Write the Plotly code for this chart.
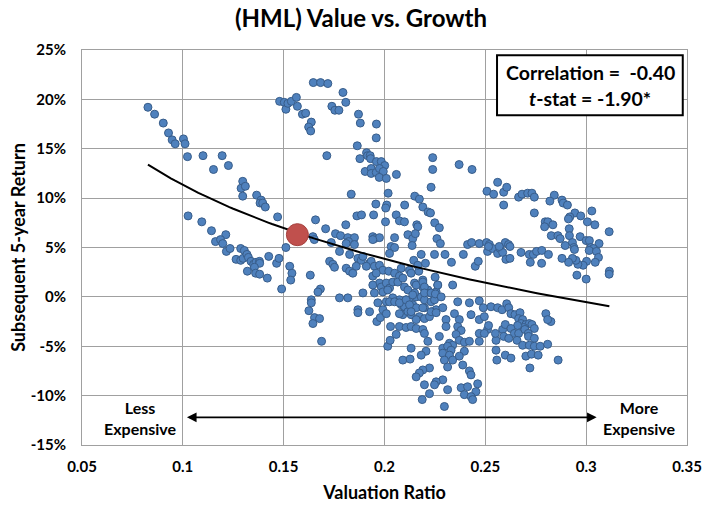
import numpy as np
import plotly.graph_objects as go

# ---- data ----
# valuation ratio (x) and subsequent 5-year return in % (y)
valuation_ratio = [
    0.0827, 0.0860, 0.0903, 0.0929, 0.0947, 0.0962, 0.1003, 0.1011, 0.1023, 0.1100, 0.1195, 0.1152, 0.1226, 0.1297,
    0.1289, 0.1310, 0.1297, 0.1366, 0.1388, 0.1480, 0.1503, 0.1511,
    0.1383, 0.1396, 0.1409, 0.1470, 0.1026, 0.1094, 0.1142, 0.1213, 0.1162, 0.1187, 0.1198, 0.1216, 0.1234, 0.1287,
    0.1305, 0.1264, 0.1287, 0.1299, 0.1318, 0.1325, 0.1338, 0.1351, 0.1363, 0.1380, 0.1381, 0.1355, 0.1320, 0.1361,
    0.1381, 0.1419, 0.1426, 0.1465, 0.1477, 0.1490, 0.1511,
    0.1521, 0.1538, 0.1563, 0.1568, 0.1647, 0.1683, 0.1719, 0.1794, 0.1808, 0.1739, 0.1754, 0.1774, 0.1593, 0.1609,
    0.1637, 0.1624, 0.1634, 0.1871, 0.1880, 0.1960, 0.1959, 0.1865, 0.1714, 0.1878, 0.1911, 0.1916, 0.1929, 0.1931,
    0.1960, 0.1984, 0.2001, 0.1904, 0.1934, 0.1934, 0.1959, 0.1975, 0.1994, 0.1974, 0.2009, 0.2059, 0.2239, 0.2239,
    0.2370, 0.2434, 0.2231, 0.1835, 0.2018, 0.2150, 0.2173, 0.2508,
    0.2190, 0.1957, 0.2011, 0.2006, 0.2100, 0.2216, 0.2228, 0.1946, 0.1863, 0.1886, 0.2058, 0.2074, 0.2099, 0.2005,
    0.1658, 0.1808, 0.1708, 0.2160, 0.2165, 0.2249, 0.2272, 0.1757, 0.1782, 0.1818, 0.1851, 0.1822, 0.1645, 0.1652,
    0.1942, 0.1950, 0.1975, 0.2050, 0.2116, 0.2140, 0.2153, 0.2260, 0.2277, 0.1736, 0.2412, 0.2432, 0.2470, 0.2506,
    0.2511,
    0.1728, 0.1744, 0.1752, 0.1530, 0.1541, 0.1535, 0.1632, 0.1682, 0.1670, 0.1637, 0.1637, 0.1625, 0.1653, 0.1678,
    0.1645, 0.1688, 0.2300, 0.2332, 0.2391, 0.2450, 0.2465, 0.2251, 0.2145, 0.2170, 0.1962, 0.1979, 0.2030, 0.2058,
    0.2016, 0.2028,
    0.1810, 0.1851, 0.1942, 0.2033, 0.2050, 0.2025, 0.2137, 0.2182, 0.2248, 0.1777, 0.1827, 0.1868, 0.1885, 0.1893,
    0.1926, 0.1934, 0.1950, 0.1975, 0.1992, 0.2021, 0.2050, 0.2083, 0.2074, 0.2124, 0.2132, 0.2165, 0.2203, 0.1810,
    0.1827, 0.1843, 0.1860, 0.1910, 0.1942, 0.1959, 0.1975, 0.1942, 0.1984, 0.2009, 0.2025, 0.2041, 0.2066, 0.2091,
    0.2099, 0.2116, 0.2149, 0.2190, 0.2190, 0.2215, 0.2231, 0.2256, 0.2264, 0.1893, 0.1950, 0.1992, 0.2016, 0.2041,
    0.2074, 0.2107, 0.2124, 0.2157, 0.2182, 0.2198, 0.2231, 0.2248, 0.1777, 0.1818, 0.1967, 0.2009, 0.2025, 0.2050,
    0.2083, 0.2099, 0.2140, 0.2157, 0.2198, 0.2239, 0.2256, 0.1868, 0.1868, 0.1926, 0.1992, 0.2009, 0.2083, 0.2091,
    0.2116, 0.2132, 0.2173, 0.2198, 0.2223,
    0.2157, 0.2190, 0.2198, 0.2264, 0.2338, 0.2149, 0.2140, 0.2198, 0.2231, 0.2252, 0.2281, 0.2363, 0.2421, 0.2470,
    0.2074, 0.2107, 0.2124, 0.2190, 0.2231, 0.2256, 0.2289, 0.2347, 0.2429, 0.2470, 0.2495, 0.2528, 0.2561, 0.2074,
    0.2132, 0.2157, 0.2305, 0.2371, 0.2074, 0.2107, 0.2132, 0.2157, 0.2190, 0.2198, 0.2305, 0.2363, 0.2380, 0.2470,
    0.2511, 0.2495, 0.2355, 0.2371, 0.2272, 0.2215, 0.2322, 0.2338, 0.2396, 0.2421, 0.2470, 0.2553, 0.2132, 0.2289,
    0.2313, 0.2330, 0.2289, 0.2322, 0.2206, 0.2182, 0.2396, 0.2297, 0.2338, 0.2371, 0.2553, 0.2091, 0.2127, 0.2223,
    0.2313, 0.2388, 0.2421, 0.2429, 0.2190, 0.2173, 0.2157, 0.2289, 0.2256, 0.2248, 0.2198, 0.2223, 0.2313, 0.2380,
    0.2412, 0.2462, 0.2453, 0.2396, 0.2429, 0.2437, 0.2187, 0.2297,
    0.2541, 0.2591, 0.2665, 0.2682, 0.2710, 0.2731, 0.2743, 0.2842, 0.2820, 0.2880, 0.2886, 0.2907, 0.2591, 0.2743,
    0.3028, 0.2944, 0.2973, 0.2919, 0.2912, 0.3006, 0.3043, 0.3114, 0.2797, 0.2810, 0.2794, 0.2835, 0.2916, 0.2827,
    0.2860, 0.2871, 0.2917, 0.2970, 0.3000, 0.3016, 0.3064, 0.2932, 0.2896, 0.2939, 0.2942, 0.3023, 0.3036, 0.3015,
    0.3051, 0.3061, 0.3045, 0.3002, 0.2985, 0.2959, 0.2949, 0.2932, 0.2913, 0.2880, 0.2954, 0.3000, 0.3115, 0.3114,
    0.2561, 0.2606,
    0.2520, 0.2536, 0.2561, 0.2573, 0.2586, 0.2599, 0.2615, 0.2622, 0.2516, 0.2569, 0.2602, 0.2622, 0.2677, 0.2718,
    0.2738, 0.2754, 0.2780, 0.2813, 0.2723, 0.2779,
    0.2583, 0.2606, 0.2616, 0.2627, 0.2647, 0.2672, 0.2665, 0.2685, 0.2677, 0.2701, 0.2718, 0.2731, 0.2743, 0.2690,
    0.2660, 0.2586, 0.2599, 0.2627, 0.2644, 0.2665, 0.2696, 0.2713, 0.2714, 0.2743, 0.2657, 0.2591, 0.2616, 0.2685,
    0.2718, 0.2743, 0.2772, 0.2809, 0.2800, 0.2825, 0.2809, 0.2599, 0.2627, 0.2701, 0.2729, 0.2762, 0.2721, 0.2861,
    0.2516, 0.2550, 0.2557, 0.2490,
]
subsequent_return = [
    19.2, 18.5, 17.6, 16.6, 15.9, 15.5, 16.0, 15.5, 14.2, 14.3, 14.3, 12.9, 13.3, 11.7,
    11.0, 11.2, 10.2, 10.3, 9.8, 19.8, 19.7, 19.0,
    9.5, 9.5, 9.1, 8.1, 8.2, 7.6, 6.7, 6.3, 5.6, 5.8, 5.4, 4.6, 4.9, 4.9,
    4.7, 3.8, 3.7, 3.9, 4.3, 4.0, 3.6, 3.3, 3.5, 3.6, 3.4, 3.0, 2.6, 2.4,
    2.3, 1.9, 4.1, 3.4, 3.9, 0.8, 5.0,
    19.6, 19.8, 20.2, 19.3, 21.7, 21.7, 21.6, 20.7, 19.7, 19.3, 18.9, 18.9, 18.5, 18.6,
    17.7, 17.2, 16.8, 18.5, 17.6, 17.5, 16.1, 15.3, 14.3, 14.0, 14.6, 14.3, 14.3, 14.0,
    13.7, 13.7, 13.3, 12.7, 13.0, 12.5, 12.6, 13.0, 12.7, 12.1, 12.0, 12.4, 14.1, 12.9,
    13.4, 12.9, 11.1, 10.4, 10.5, 10.2, 9.9, 10.7,
    9.1, 9.4, 9.3, 9.0, 9.3, 8.6, 8.5, 8.3, 8.2, 8.3, 8.3, 7.7, 7.6, 7.6,
    7.8, 7.3, 6.9, 7.3, 7.1, 7.5, 7.0, 6.4, 6.2, 6.0, 6.0, 5.6, 6.1, 5.8,
    6.1, 5.9, 6.0, 6.0, 6.3, 5.9, 6.4, 5.9, 5.4, 5.5, 5.3, 5.5, 5.4, 5.5,
    4.6,
    3.6, 3.3, 3.0, 3.1, 2.4, 1.7, 2.2, 0.8, 0.5, -0.3, -0.6, -1.4, -2.1, -2.2,
    -2.7, -4.5, 4.3, 3.5, 4.3, 3.1, 3.6, 2.0, 3.7, 2.6, -2.5, -2.1, -3.0, -3.8,
    -5.0, -4.4,
    5.4, 5.3, 5.8, 5.1, 5.0, 4.4, 5.2, 4.3, 4.3, 4.6, 4.3, 3.9, 3.7, 4.1,
    3.4, 3.6, 3.1, 3.2, 2.7, 2.6, 2.4, 2.9, 2.1, 2.7, 2.4, 3.2, 3.4, 2.9,
    2.6, 2.4, 3.1, 3.1, 2.1, 2.4, 1.4, 1.2, 1.0, 1.4, 0.9, 1.5, 1.5, 1.9,
    1.0, 0.7, 1.4, 1.7, 1.0, 0.7, 0.4, 0.5, 1.2, 0.4, 0.4, 0.5, 0.7, -0.1,
    -0.3, -0.3, -0.5, 0.0, 0.0, -0.3, -0.5, -0.3, -0.1, -0.1, -0.6, -0.5, -0.5, -0.5,
    -0.8, -1.0, -0.8, -1.1, -1.1, -1.5, -1.3, -1.3, -1.6, -1.5, -1.3, -1.7, -1.7, -1.8,
    -1.5, -1.8, -2.0, -2.2, -2.0,
    1.2, 1.5, 1.0, 1.2, 1.2, 0.4, 0.2, 0.4, 0.4, 0.3, 0.0, -0.5, -0.6, -0.4,
    -0.6, -0.3, -0.8, -1.1, -1.5, -1.6, -1.1, -1.7, -1.8, -2.3, -2.0, -1.0, -1.1, -1.7,
    -1.5, -2.3, -2.3, -2.3, -3.0, -3.1, -3.0, -3.2, -3.3, -3.7, -3.0, -3.0, -3.4, -3.7,
    -3.3, -3.7, -3.8, -4.4, -4.0, -4.5, -4.7, -4.9, -4.6, -4.5, -4.5, -4.4, -5.2, -5.2,
    -5.0, -5.4, -5.7, -5.9, -5.5, -5.9, -5.5, -6.4, -6.4, -6.0, -5.4, -6.4, -6.3, -7.2,
    -7.1, -6.9, -7.5, -7.9, -7.4, -7.7, -8.1, -8.4, -8.6, -8.9, -8.9, -9.8, -9.4, -9.2,
    -9.1, -8.8, -9.6, -9.9, -10.1, -10.4, -10.4, -11.1,
    10.4, 10.6, 10.1, 10.4, 10.5, 10.5, 10.1, 10.3, 9.7, 9.8, 9.5, 9.3, 9.3, 8.5,
    8.7, 8.5, 8.2, 8.1, 7.9, 7.6, 7.3, 6.6, 7.6, 7.6, 7.1, 7.3, 6.9, 6.2,
    6.2, 5.9, 6.2, 6.1, 5.7, 5.7, 5.4, 5.5, 5.2, 5.0, 4.8, 5.0, 4.9, 4.7,
    4.6, 4.0, 3.5, 3.6, 3.2, 3.3, 3.7, 3.9, 3.5, 3.9, 2.2, 1.8, 2.6, 2.3,
    11.6, 11.1,
    5.3, 4.9, 4.4, 4.9, 4.5, 5.5, 5.3, 5.1, 5.1, 5.1, 3.8, 3.9, 4.5, 4.3,
    4.3, 4.6, 4.7, 4.3, 3.5, 3.4,
    -1.3, -0.7, -1.1, -1.7, -1.8, -1.6, -2.2, -2.3, -2.7, -2.8, -2.7, -2.8, -3.2, -3.1,
    -2.9, -3.3, -2.8, -3.2, -3.7, -3.7, -3.3, -3.7, -4.0, -4.2, -4.4, -4.0, -4.2, -4.9,
    -4.9, -5.0, -5.0, -4.8, -1.7, -2.5, -2.3, -5.9, -6.2, -6.0, -5.8, -5.9, -7.2, -6.4,
    -2.9, -3.7, -6.4, -1.1,
]

# current observation (large red marker)
current_ratio = [0.1568]
current_return = [6.3]

x_tick_vals = [0.05, 0.10, 0.15, 0.20, 0.25, 0.30, 0.35]
x_tick_text = ["0.05", "0.1", "0.15", "0.2", "0.25", "0.3", "0.35"]
y_tick_vals = [25, 20, 15, 10, 5, 0, -5, -10, -15]
y_tick_text = ["25%", "20%", "15%", "10%", "5%", "0%", "-5%", "-10%", "-15%"]

# ---- logarithmic trendline fitted to the observations ----
xa = np.array(valuation_ratio)
ya = np.array(subsequent_return)
slope, intercept = np.polyfit(np.log(xa), ya, 1)
trend_x = np.linspace(xa.min(), xa.max(), 120)
trend_y = slope * np.log(trend_x) + intercept

FONT = "Lato, 'Open Sans', Arial, sans-serif"
GRID = "#A0A0A0"

fig = go.Figure()
fig.add_trace(go.Scatter(
    x=valuation_ratio, y=subsequent_return, mode="markers",
    marker=dict(size=8, color="#4F81BD", line=dict(color="#385D8A", width=1)),
    showlegend=False, hoverinfo="skip"))
fig.add_trace(go.Scatter(
    x=trend_x, y=trend_y, mode="lines",
    line=dict(color="black", width=2), showlegend=False, hoverinfo="skip"))
fig.add_trace(go.Scatter(
    x=current_ratio, y=current_return, mode="markers",
    marker=dict(size=22, color="#C0504D", line=dict(color="#A5413E", width=1)),
    showlegend=False, hoverinfo="skip"))

fig.update_layout(
    width=722, height=506,
    margin=dict(l=82, r=35, t=50, b=61),
    paper_bgcolor="white", plot_bgcolor="white",
    font=dict(family=FONT, color="black"),
    title=dict(text="(HML) Value vs. Growth", x=0.5, xref="container", xanchor="center",
               y=0.964, yref="container", yanchor="middle",
               font=dict(size=24, weight=700, family=FONT)),
    xaxis=dict(range=[0.05, 0.35], tickvals=x_tick_vals, ticktext=x_tick_text,
               showgrid=True, gridcolor=GRID, gridwidth=1, zeroline=False,
               showline=True, linecolor=GRID, linewidth=1, mirror=True,
               ticks="", ticklabelstandoff=8, automargin=False,
               tickfont=dict(size=15, weight=700),
               title=dict(text="Valuation Ratio", font=dict(size=18, weight=700), standoff=12)),
    yaxis=dict(range=[-15, 25], tickvals=y_tick_vals, ticktext=y_tick_text,
               showgrid=True, gridcolor=GRID, gridwidth=1, zeroline=False,
               showline=True, linecolor=GRID, linewidth=1, mirror=True,
               ticks="", ticklabelstandoff=12, automargin=False,
               tickfont=dict(size=15, weight=700),
               title=dict(text="Subsequent 5-year Return", font=dict(size=18, weight=700), standoff=0)),
)

# statistics box
fig.add_shape(type="rect", xref="paper", yref="paper",
              x0=0.686, x1=0.993, y0=0.835, y1=0.987,
              line=dict(color="black", width=2), fillcolor="white", layer="above")
fig.add_annotation(xref="paper", yref="paper", x=0.8397, y=0.942, xanchor="center", yanchor="middle",
                   showarrow=False, text="Correlation =\u00a0 -0.40", font=dict(size=19.5, weight=700))
fig.add_annotation(xref="paper", yref="paper", x=0.8397, y=0.878, xanchor="center", yanchor="middle",
                   showarrow=False, text="<i>t</i>-stat = -1.90*", font=dict(size=19.5, weight=700))

# expensive / cheap arrow
fig.add_annotation(x=0.3052, y=-12.2, ax=0.1013, ay=-12.2, xref="x", yref="y",
                   axref="x", ayref="y", text="", showarrow=True,
                   arrowhead=2, arrowside="end+start", arrowsize=1.2, arrowwidth=1.6,
                   arrowcolor="black")
fig.add_annotation(x=0.0787, y=-12.25, xref="x", yref="y", xanchor="center", yanchor="middle",
                   showarrow=False, text="Less<br>Expensive", font=dict(size=16, weight=700))
fig.add_annotation(x=0.3262, y=-12.25, xref="x", yref="y", xanchor="center", yanchor="middle",
                   showarrow=False, text="More<br>Expensive", font=dict(size=16, weight=700))

fig.write_html("out.html", config={"displayModeBar": False},
               post_script="document.body.style.margin='0';document.body.style.overflow='hidden';")
